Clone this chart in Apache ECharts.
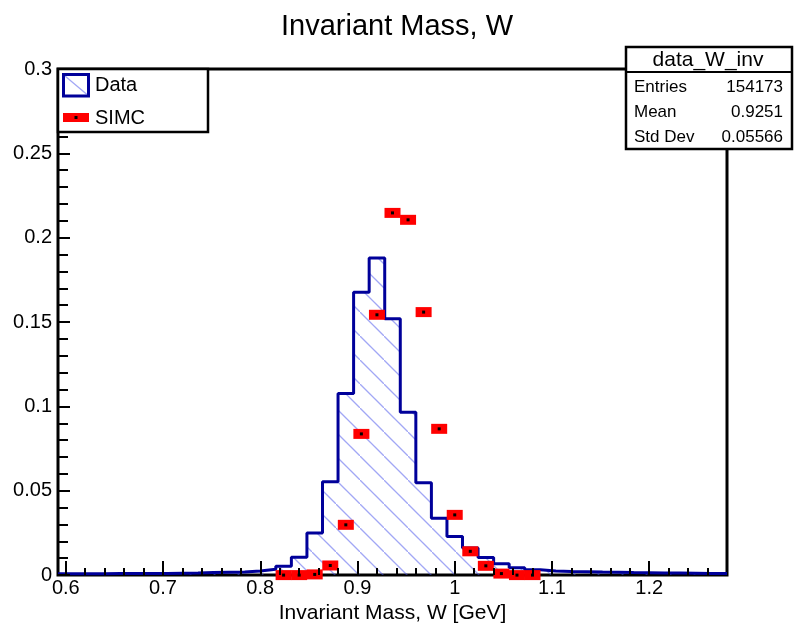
<!DOCTYPE html>
<html><head><meta charset="utf-8">
<script src="https://cdn.jsdelivr.net/npm/echarts@6/dist/echarts.min.js"></script>
<style>html,body{margin:0;padding:0;background:#fff}#c{width:794px;height:629px}</style>
</head><body><div id="c"></div>
<script>
// ---- data ----
const binLow = 0.592;
const binWidth = 0.016;
const dataValues = [
  0.0008, 0.0008, 0.0008, 0.0009, 0.0009, 0.0010, 0.0010, 0.0011, 0.0012, 0.0015,
  0.0017, 0.0019, 0.0025, 0.0034, 0.0053, 0.0106, 0.0249, 0.0553, 0.1076, 0.1676,
  0.1880, 0.1520, 0.0965, 0.0547, 0.0337, 0.0229, 0.0160, 0.0104, 0.0068, 0.0043,
  0.0031, 0.0025, 0.0022, 0.0020, 0.0018, 0.0017, 0.0015, 0.0014, 0.0013, 0.0012,
  0.0011, 0.0010, 0.0010
];
const simcFirstBin = 14;
const simcValues = [
  0.0000, 0.0000, 0.0004, 0.0057, 0.0298, 0.0837, 0.1543, 0.2147, 0.2106, 0.1559,
  0.0867, 0.0357, 0.0141, 0.0055, 0.0009, 0.0000, 0.0000
];
const xMajorTicks = [0.6, 0.7, 0.8, 0.9, 1.0, 1.1, 1.2];
const xTickLabels = ['0.6', '0.7', '0.8', '0.9', '1', '1.1', '1.2'];
const xMinorTicks = [0.62, 0.64, 0.66, 0.68, 0.72, 0.74, 0.76, 0.78, 0.82, 0.84, 0.86, 0.88,
  0.92, 0.94, 0.96, 0.98, 1.02, 1.04, 1.06, 1.08, 1.12, 1.14, 1.16, 1.18, 1.22, 1.24, 1.26];
const yTickLabels = ['0', '0.05', '0.1', '0.15', '0.2', '0.25', '0.3'];
const statsRows = [['Entries', '154173'], ['Mean', '0.9251'], ['Std Dev', '0.05566']];

// ---- build ----
const nBins = dataValues.length;
const xMin = binLow, xMax = binLow + nBins * binWidth;
const histPoints = dataValues.map((v, i) => [binLow + i * binWidth, v]);
histPoints.push([xMax, dataValues[nBins - 1]]);
const simcPoints = simcValues.map((v, i) => [binLow + (simcFirstBin + i + 0.5) * binWidth, v]);

const hatchColor = 'rgba(70,80,235,0.5)';
const lineBlue = '#00009a';
const pat = document.createElement('canvas');
pat.width = 24; pat.height = 24;
const pc = pat.getContext('2d');
pc.strokeStyle = hatchColor; pc.lineWidth = 1.3;
pc.beginPath(); pc.moveTo(-2, -2); pc.lineTo(26, 26); pc.stroke();

const FONT = '"Liberation Sans", Arial, Helvetica, sans-serif';
const chart = echarts.init(document.getElementById('c'), null, {renderer: 'canvas'});

const statsGraphics = [];
const sx = 626, sy = 47, sw = 166, sh = 102;
statsGraphics.push({type: 'rect', shape: {x: sx, y: sy, width: sw, height: sh}, style: {fill: '#fff', stroke: '#000', lineWidth: 2.5}, z: 100});
statsGraphics.push({type: 'line', shape: {x1: sx, y1: 72, x2: sx + sw, y2: 72}, style: {stroke: '#000', lineWidth: 2}, z: 101});
statsGraphics.push({type: 'text', x: 708, y: 60, style: {text: 'data_W_inv', font: '21px ' + FONT, fill: '#000', textAlign: 'center', textVerticalAlign: 'middle'}, z: 101});
statsRows.forEach((r, i) => {
  const yy = 87 + i * 25;
  statsGraphics.push({type: 'text', x: 634, y: yy, style: {text: r[0], font: '17px ' + FONT, fill: '#000', textAlign: 'left', textVerticalAlign: 'middle'}, z: 101});
  statsGraphics.push({type: 'text', x: 783, y: yy, style: {text: r[1], font: '17px ' + FONT, fill: '#000', textAlign: 'right', textVerticalAlign: 'middle'}, z: 101});
});

const legendGraphics = [
  {type: 'rect', shape: {x: 58, y: 69, width: 150, height: 63}, style: {fill: '#fff', stroke: '#000', lineWidth: 2.5}, z: 100},
  {type: 'rect', shape: {x: 63.5, y: 74.5, width: 25, height: 21.5}, style: {fill: '#fff', stroke: lineBlue, lineWidth: 3}, z: 101},
  {type: 'line', shape: {x1: 65, y1: 76, x2: 87, y2: 94.5}, style: {stroke: hatchColor, lineWidth: 1.3}, z: 101},
  {type: 'text', x: 95, y: 85.5, style: {text: 'Data', font: '20px ' + FONT, fill: '#000', textVerticalAlign: 'middle'}, z: 101},
  {type: 'rect', shape: {x: 63, y: 113, width: 26, height: 9}, style: {fill: '#ff0000'}, z: 101},
  {type: 'rect', shape: {x: 74.5, y: 116, width: 3, height: 3}, style: {fill: '#000'}, z: 102},
  {type: 'text', x: 95, y: 118, style: {text: 'SIMC', font: '20px ' + FONT, fill: '#000', textVerticalAlign: 'middle'}, z: 101}
];

const option = {
  animation: false,
  backgroundColor: '#fff',
  textStyle: {fontFamily: FONT},
  title: {text: 'Invariant Mass, W', left: 392, top: 7, textAlign: 'center',
    textStyle: {fontFamily: FONT, fontSize: 29, fontWeight: 'normal', color: '#000'}},
  grid: {left: 58, right: 67, top: 69, bottom: 50, show: true, borderColor: '#000', borderWidth: 3, backgroundColor: 'transparent'},
  xAxis: [{
    type: 'value', min: xMin, max: xMax, position: 'bottom',
    name: 'Invariant Mass, W [GeV]', nameLocation: 'middle', nameGap: 24,
    nameTextStyle: {fontFamily: FONT, fontSize: 21, color: '#000'},
    axisLine: {show: false},
    splitLine: {show: false},
    axisTick: {show: true, inside: true, length: 14, customValues: xMajorTicks, lineStyle: {color: '#000', width: 2}},
    axisLabel: {show: true, customValues: xMajorTicks, margin: 3, fontFamily: FONT, fontSize: 20, color: '#000',
      formatter: v => { let k = 0; xMajorTicks.forEach((t, i) => { if (Math.abs(t - v) < 1e-6) k = i; }); return xTickLabels[k]; }},
    z: 5
  }, {
    type: 'value', min: xMin, max: xMax, position: 'bottom', gridIndex: 0,
    axisLine: {show: false}, splitLine: {show: false}, axisLabel: {show: false},
    axisTick: {show: true, inside: true, length: 7, customValues: xMinorTicks, lineStyle: {color: '#000', width: 2}},
    z: 5
  }],
  yAxis: {
    type: 'value', min: 0, max: 0.3, interval: 0.05,
    axisLine: {show: false}, splitLine: {show: false},
    axisTick: {show: true, inside: true, length: 12, lineStyle: {color: '#000', width: 2}},
    minorTick: {show: true, splitNumber: 5, length: 10, lineStyle: {color: '#000', width: 2}},
    axisLabel: {margin: 6, fontFamily: FONT, fontSize: 20, color: '#000',
      formatter: v => yTickLabels[Math.round(v / 0.05)]},
    z: 5
  },
  series: [{
    name: 'Data', type: 'line', xAxisIndex: 0, step: 'end', data: histPoints,
    symbol: 'none', lineStyle: {color: lineBlue, width: 3},
    areaStyle: {color: {image: pat, repeat: 'repeat'}, opacity: 1},
    z: 2
  }, {
    name: 'SIMC', type: 'scatter', xAxisIndex: 0, data: simcPoints,
    symbol: 'rect', symbolSize: [16, 10], itemStyle: {color: '#ff0000', opacity: 1}, z: 3
  }, {
    name: 'SIMCdot', type: 'scatter', xAxisIndex: 0, data: simcPoints,
    symbol: 'rect', symbolSize: [3, 3], itemStyle: {color: '#000', opacity: 1}, z: 4
  }],
  graphic: legendGraphics.concat(statsGraphics)
};
chart.setOption(option);
</script>
</body></html>
